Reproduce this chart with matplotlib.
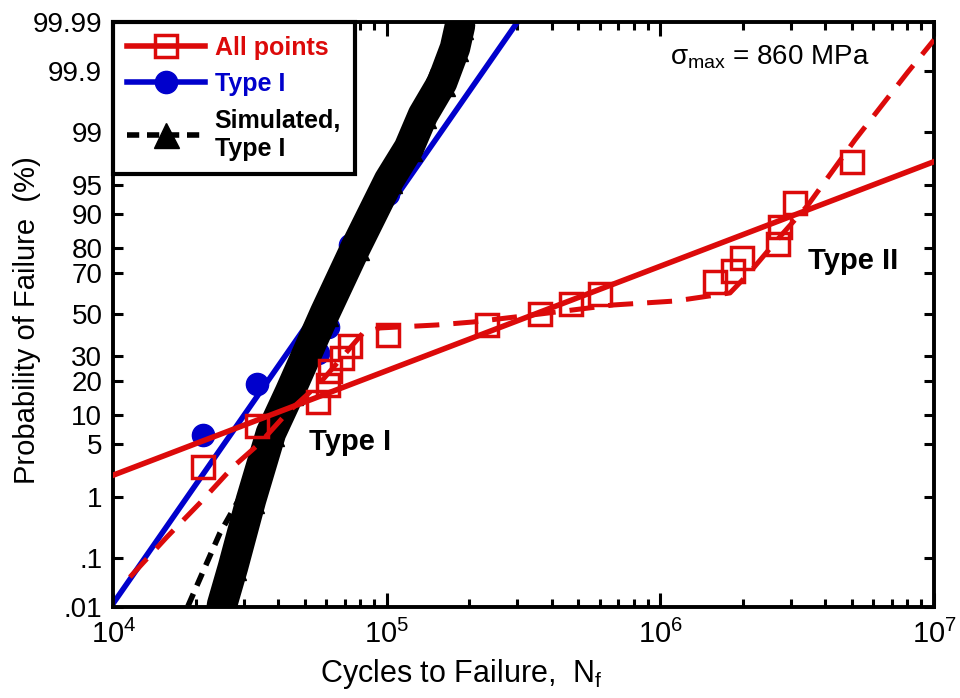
import numpy as np
import matplotlib.pyplot as plt
from matplotlib.lines import Line2D
from matplotlib.ticker import NullLocator, FixedLocator, FixedFormatter
from statistics import NormalDist

plt.rcParams['font.family'] = ['Liberation Sans', 'DejaVu Sans']
plt.rcParams['mathtext.fontset'] = 'custom'
plt.rcParams['mathtext.rm'] = 'Liberation Sans'
plt.rcParams['mathtext.it'] = 'Liberation Sans:italic'
plt.rcParams['mathtext.bf'] = 'Liberation Sans:bold'
plt.rcParams['mathtext.default'] = 'regular'

RED = '#dc0a0a'
BLUE = '#0000cc'

# All points (cycles, probability %)
all_N = [21240, 33470, 55940, 60840, 61880, 68460, 73220, 100850, 232100,
         362500, 470900, 600800, 1582000, 1841000, 1986000, 2689000,
         2735000, 3102000, 5014000]
all_P = [2.6, 7.9, 13.2, 18.4, 23.7, 28.9, 34.2, 39.5, 44.7, 50.0, 55.3,
         60.5, 65.8, 71.1, 76.3, 81.6, 86.8, 92.1, 97.4]

# Type I points
t1_N = [21240, 33470, 55940, 60840, 61880, 68460, 73220, 100850]
t1_P = [6.3, 18.8, 31.3, 43.8, 56.3, 68.8, 81.3, 93.8]

# fitted lines (end points)
red_fit_N = [1.0e4, 1.0e7]
red_fit_P = [2.06, 97.4]
blue_fit_N = [1.0e4, 3.0e5]
blue_fit_P = [0.0122, 99.99]

# red dashed curve (bimodal fit)
red_dash_N = [11490, 15690, 20720, 27350, 34320, 43090, 56890, 81700, 94270,
              152300, 206300, 341800, 670500, 1130000, 1796000, 2125000,
              2667000, 3462000, 5142000, 8032000, 1.0e7]
red_dash_P = [0.042, 0.234, 0.83, 2.63, 5.11, 10.5, 19.2, 40.7, 43.2, 44.7,
              46.2, 49.8, 54.8, 56.8, 60.8, 70.5, 82.8, 91.8, 98.68, 99.898,
              99.976]

# simulated Type I band (read along its centre)
sim_N = [24930, 27350, 31830, 37660, 44190, 59340, 77000, 101700, 120300,
         135400, 158900, 177300, 184900]
sim_P = [0.011, 0.066, 0.92, 6.6, 16.2, 50.8, 80.5, 95.6, 98.29, 99.44,
         99.84, 99.965, 99.988]

# simulated fit (black dashed)
simfit_N = [18730, 21610, 24510, 28290, 34910, 48070, 67330, 90400, 109700,
            134300, 158900, 188000]
simfit_P = [0.0105, 0.066, 0.273, 0.83, 4.25, 22.1, 62.2, 90.8, 98.34,
            99.72, 99.961, 99.99]

yticks = [0.01, 0.1, 1, 5, 10, 20, 30, 50, 70, 80, 90, 95, 99, 99.9, 99.99]
ylabels = ['.01', '.1', '1', '5', '10', '20', '30', '50', '70', '80', '90',
           '95', '99', '99.9', '99.99']

# normal probability scale
_nd = NormalDist()
_ppf = np.vectorize(lambda p: _nd.inv_cdf(min(max(p, 1e-9), 1 - 1e-9)),
                    otypes=[float])
_cdf = np.vectorize(_nd.cdf, otypes=[float])


def fwd(p):
    return _ppf(np.asarray(p, dtype=float) / 100.0)


def inv(z):
    return 100.0 * _cdf(np.asarray(z, dtype=float))


fig = plt.figure(figsize=(9.6, 6.98), dpi=100)
ax = fig.add_axes([0.1182, 0.1304, 0.8547, 0.8381])
ax.set_xscale('log')
ax.set_yscale('function', functions=(fwd, inv))

# Type I fit and points
ax.plot(blue_fit_N, blue_fit_P, color=BLUE, lw=4, zorder=2)
ax.plot(t1_N, t1_P, 'o', color=BLUE, ms=16, zorder=2.5)

# simulated band
ax.plot(sim_N, sim_P, color='k', lw=22, solid_capstyle='round', zorder=3)
ax.plot(sim_N, sim_P, '^', color='k', ms=18, zorder=3)
ax.plot(simfit_N, simfit_P, color='k', lw=4, dashes=(2.4, 1.6), zorder=3.2)

# all points
ax.plot(red_fit_N, red_fit_P, color=RED, lw=4, zorder=4)
ax.plot(red_dash_N, red_dash_P, color=RED, lw=3.6, dashes=(5, 2.8), zorder=4)
ax.plot(all_N, all_P, 's', mfc='none', mec=RED, mew=2.5, ms=15.5, zorder=5)

ax.set_xlim(1e4, 1e7)
ax.set_ylim(0.01, 99.99)
ax.yaxis.set_major_locator(FixedLocator(yticks))
ax.yaxis.set_major_formatter(FixedFormatter(ylabels))
ax.yaxis.set_minor_locator(NullLocator())

ax.tick_params(which='both', direction='in', top=True, right=True,
               labelsize=20, width=2.2)
ax.tick_params(axis='x', which='major', length=10, pad=9, labelsize=21)
ax.tick_params(axis='x', which='minor', length=5.5)
ax.tick_params(axis='y', which='major', length=7, pad=8)
for s in ax.spines.values():
    s.set_linewidth(2.8)

ax.set_xlabel('Cycles to Failure,  N$_f$', fontsize=22)
ax.xaxis.set_label_coords(0.4235, -0.085)
ax.set_ylabel('Probability of Failure  (%)', fontsize=21)
ax.yaxis.set_label_coords(-0.088, 0.49)

ax.text(73200, 5.25, 'Type I', fontsize=21, fontweight='bold',
        ha='center', va='center', zorder=6)
ax.text(5.056e6, 75.2, 'Type II', fontsize=21, fontweight='bold',
        ha='center', va='center', zorder=6)
ax.text(0.678, 0.94, r'$\sigma_{max}$ = 860 MPa', transform=ax.transAxes,
        fontsize=20, ha='left', va='center')

handles = [
    Line2D([], [], color=RED, lw=4, marker='s', mfc='none', mec=RED,
           mew=2.5, ms=16),
    Line2D([], [], color=BLUE, lw=4, marker='o', ms=16),
    Line2D([], [], color='k', lw=4, dashes=(2.2, 1.4), marker='^', ms=18),
]
leg = ax.legend(handles, ['All points', 'Type I', 'Simulated,\nType I'],
                loc='upper left', bbox_to_anchor=(0, 1), borderaxespad=0,
                fancybox=False, edgecolor='k', framealpha=1,
                prop={'size': 18, 'weight': 'bold'}, handlelength=3.1,
                handletextpad=0.4, labelspacing=0.5, borderpad=0.55)
leg.get_frame().set_linewidth(3)
leg.set_zorder(10)
for t, c in zip(leg.get_texts(), [RED, BLUE, 'k']):
    t.set_color(c)

fig.savefig('out.png', dpi=100)
